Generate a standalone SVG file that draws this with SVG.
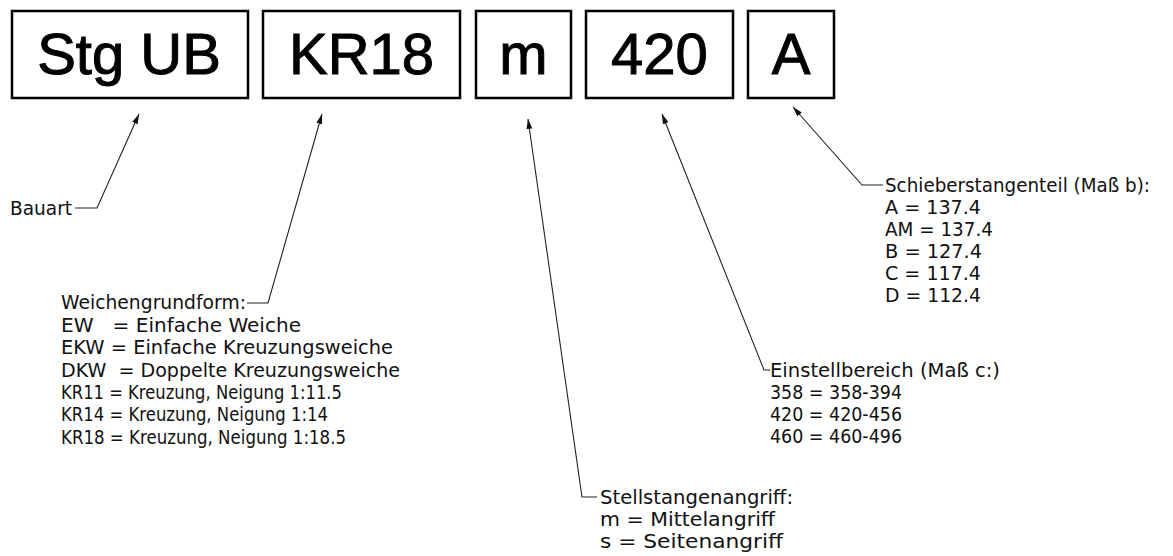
<svg xmlns="http://www.w3.org/2000/svg" width="1173" height="556" viewBox="0 0 1173 556">
<style>
.box{fill:#fff;stroke:#000;stroke-width:2.5}
.big{font-family:"Liberation Sans",Arial,sans-serif;font-size:58px;text-anchor:middle;fill:#000;stroke:#000;stroke-width:1}
.t{font-family:"DejaVu Sans",sans-serif;font-size:19px;fill:#111}
.ld{fill:none;stroke:#222;stroke-width:1.1}
</style>
<defs>
<marker id="ah" viewBox="0 0 10 6" refX="10" refY="3" markerWidth="10" markerHeight="6" markerUnits="userSpaceOnUse" orient="auto">
<path d="M0,0 L10,3 L0,6 z" fill="#111"/>
</marker>
</defs>
<rect width="1173" height="556" fill="#fff"/>
<g id="node-bauart"><rect class="box" x="12" y="11" width="236" height="87"/><text class="big" x="129" y="74">Stg UB</text></g>
<g id="node-form"><rect class="box" x="263" y="11" width="197" height="87"/><text class="big" x="361.5" y="74">KR18</text></g>
<g id="node-angriff"><rect class="box" x="476" y="11" width="95" height="87"/><text class="big" x="523.5" y="74">m</text></g>
<g id="node-einstell"><rect class="box" x="586" y="11" width="147" height="87"/><text class="big" x="659.5" y="74">420</text></g>
<g id="node-schieber"><rect class="box" x="748" y="11" width="86" height="87"/><text class="big" x="791" y="74">A</text></g>

<g id="label-bauart"><text class="t" x="10" y="215" textLength="62" lengthAdjust="spacingAndGlyphs">Bauart</text></g>
<g id="label-form">
<text class="t" x="61" y="309" textLength="185" lengthAdjust="spacingAndGlyphs">Weichengrundform:</text>
<text class="t" x="61" y="332" textLength="240" lengthAdjust="spacingAndGlyphs" xml:space="preserve">EW   = Einfache Weiche</text>
<text class="t" x="61" y="354" textLength="332" lengthAdjust="spacingAndGlyphs">EKW = Einfache Kreuzungsweiche</text>
<text class="t" x="61" y="377" textLength="339" lengthAdjust="spacingAndGlyphs" xml:space="preserve">DKW  = Doppelte Kreuzungsweiche</text>
<text class="t" x="61" y="399" textLength="281" lengthAdjust="spacingAndGlyphs">KR11 = Kreuzung, Neigung 1:11.5</text>
<text class="t" x="61" y="421" textLength="267" lengthAdjust="spacingAndGlyphs">KR14 = Kreuzung, Neigung 1:14</text>
<text class="t" x="61" y="444" textLength="285" lengthAdjust="spacingAndGlyphs">KR18 = Kreuzung, Neigung 1:18.5</text>
</g>
<g id="label-angriff">
<text class="t" x="600" y="504" textLength="193" lengthAdjust="spacingAndGlyphs">Stellstangenangriff:</text>
<text class="t" x="600" y="526" textLength="175" lengthAdjust="spacingAndGlyphs">m = Mittelangriff</text>
<text class="t" x="600" y="548" textLength="183" lengthAdjust="spacingAndGlyphs">s = Seitenangriff</text>
</g>
<g id="label-einstell">
<text class="t" x="770" y="377" textLength="230" lengthAdjust="spacingAndGlyphs">Einstellbereich (Maß c:)</text>
<text class="t" x="770" y="399" textLength="132" lengthAdjust="spacingAndGlyphs">358 = 358-394</text>
<text class="t" x="770" y="421" textLength="132" lengthAdjust="spacingAndGlyphs">420 = 420-456</text>
<text class="t" x="770" y="443" textLength="132" lengthAdjust="spacingAndGlyphs">460 = 460-496</text>
</g>
<g id="label-schieber">
<text class="t" x="885" y="192" textLength="265" lengthAdjust="spacingAndGlyphs">Schieberstangenteil (Maß b):</text>
<text class="t" x="885" y="214" textLength="96" lengthAdjust="spacingAndGlyphs">A = 137.4</text>
<text class="t" x="885" y="236" textLength="108" lengthAdjust="spacingAndGlyphs">AM = 137.4</text>
<text class="t" x="885" y="258" textLength="97" lengthAdjust="spacingAndGlyphs">B = 127.4</text>
<text class="t" x="885" y="280" textLength="96" lengthAdjust="spacingAndGlyphs">C = 117.4</text>
<text class="t" x="885" y="302" textLength="96" lengthAdjust="spacingAndGlyphs">D = 112.4</text>
</g>

<g id="connectors">
<path class="ld" d="M75,208 H97 L139,114" marker-end="url(#ah)"/>
<path class="ld" d="M247,303 H268 L322,114" marker-end="url(#ah)"/>
<path class="ld" d="M597,497 H582 L528,119" marker-end="url(#ah)"/>
<path class="ld" d="M770,370 H764 L662,114" marker-end="url(#ah)"/>
<path class="ld" d="M883,185 H862 L793,107" marker-end="url(#ah)"/>
</g>
</svg>
